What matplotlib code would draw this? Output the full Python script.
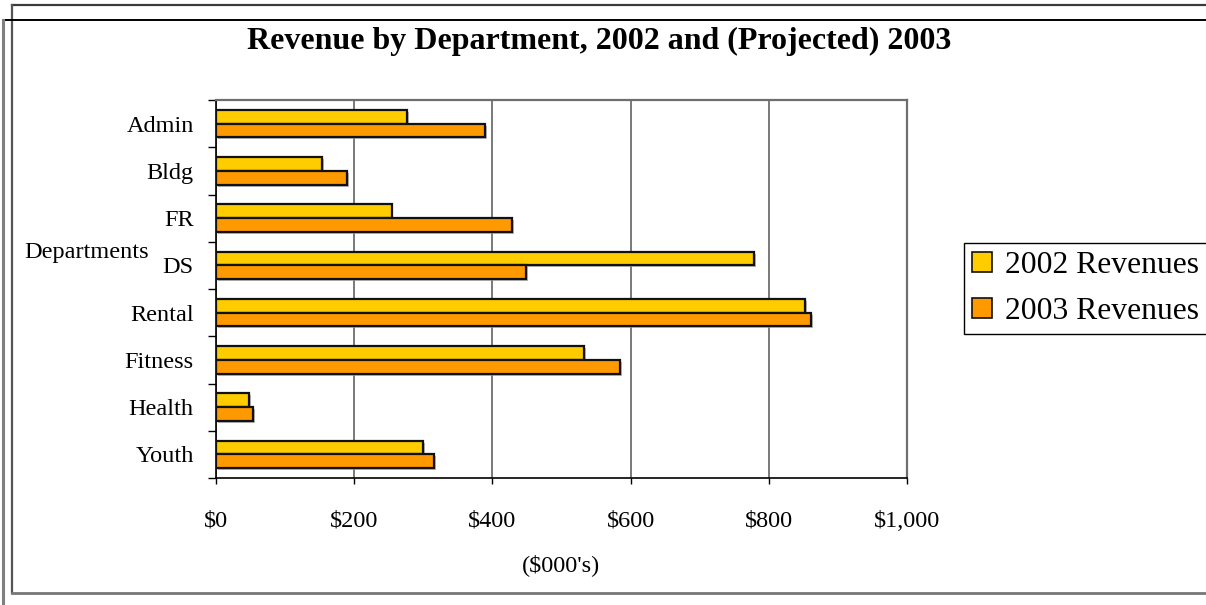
import matplotlib
matplotlib.use("Agg")
import matplotlib.pyplot as plt
import matplotlib.patheffects as pe
from matplotlib.lines import Line2D
import numpy as np

# Department revenue data ($000's)
departments = ["Admin", "Bldg", "FR", "DS", "Rental", "Fitness", "Health", "Youth"]
rev_2002 = [276, 153, 254, 778, 853, 532, 48, 299]
rev_2003 = [389, 189, 429, 449, 861, 585, 53, 316]
series_names = ["2002 Revenues", "2003 Revenues"]
x_ticks = [0, 200, 400, 600, 800, 1000]
x_tick_labels = ["$0", "$200", "$400", "$600", "$800", "$1,000"]

plt.rcParams["font.family"] = ["Liberation Serif", "DejaVu Serif"]

W, H = 1206, 605
fig = plt.figure(figsize=(W / 100, H / 100), dpi=100)
fig.patch.set_facecolor("white")

# Plot area in pixel coordinates
left, right, top, bottom = 216, 907, 100, 478
ax = fig.add_axes([left / W, 1 - bottom / H, (right - left) / W, (bottom - top) / H])

y = np.arange(len(departments))
h = 0.29
shadow = [pe.SimplePatchShadow(offset=(1.4, -1.4), shadow_rgbFace="#9a9a9a", alpha=0.7), pe.Normal()]
b1 = ax.barh(y - h / 2, rev_2002, height=h, color="#FFCC00", edgecolor="#111111",
             linewidth=1.6, zorder=3, label=series_names[0])
b2 = ax.barh(y + h / 2, rev_2003, height=h, color="#FF9900", edgecolor="#111111",
             linewidth=1.6, zorder=3, label=series_names[1])
for bar in list(b1) + list(b2):
    bar.set_path_effects(shadow)

ax.set_xlim(0, 1000)
ax.set_ylim(len(departments) - 0.5, -0.5)

# x axis
ax.set_xticks(x_ticks)
ax.set_xticklabels(x_tick_labels, fontsize=17.5)
ax.tick_params(axis="x", direction="out", length=4.5, width=1, pad=19, colors="black")
ax.xaxis.grid(True, color="#6e6e6e", linewidth=1.3, zorder=0)

# y axis: tick marks at category boundaries, labels at centres
ax.set_yticks(np.arange(-0.5, len(departments) + 0.5, 1.0))
ax.set_yticklabels([])
ax.tick_params(axis="y", which="major", direction="out", length=6, width=1, colors="black")
ax.set_yticks(y, minor=True)
ax.set_yticklabels(departments, minor=True, fontsize=17.5)
ax.tick_params(axis="y", which="minor", length=0, pad=16)

for s in ("left", "bottom"):
    ax.spines[s].set_color("black")
    ax.spines[s].set_linewidth(1.2)
for s in ("top", "right"):
    ax.spines[s].set_color("#6e6e6e")
    ax.spines[s].set_linewidth(1.6)
ax.set_axisbelow(True)

# Title and axis captions
fig.text(599 / W, 1 - 41 / H, "Revenue by Department, 2002 and (Projected) 2003",
         fontsize=23, fontweight="bold", ha="center", va="center")
fig.text(561 / W, 1 - 565 / H, "($000's)", fontsize=17.5, ha="center", va="center")
fig.text(24 / W, 1 - 252 / H, "Departments", fontsize=17.5, ha="left", va="center")

# Legend
leg = fig.legend(handles=[b1, b2], labels=series_names, loc="upper left",
                 bbox_to_anchor=(964 / W, 1 - 243 / H), fontsize=22.8,
                 frameon=True, fancybox=False, edgecolor="black", framealpha=1,
                 handlelength=0.62, handleheight=0.62, handletextpad=0.42,
                 borderpad=0.25, labelspacing=0.55, borderaxespad=0)
leg.get_frame().set_linewidth(1.0)
for hnd in leg.legend_handles:
    hnd.set_path_effects([])
    hnd.set_linewidth(1.2)

# Chart frame lines
def fline(xs, ys, color, lw):
    fig.add_artist(Line2D([x / W for x in xs], [1 - v / H for v in ys],
                          color=color, linewidth=lw, transform=fig.transFigure))

fline([12, 1206], [5, 5], "#3a3a3a", 1.6)
fline([12, 12], [5, 593], "#555555", 1.6)
fline([12, 1206], [593, 593], "#777777", 2.0)
fline([3, 1206], [20, 20], "black", 1.4)
fline([3, 3], [20, 605], "#808080", 2.2)

fig.savefig("out.png", dpi=100, facecolor="white")
